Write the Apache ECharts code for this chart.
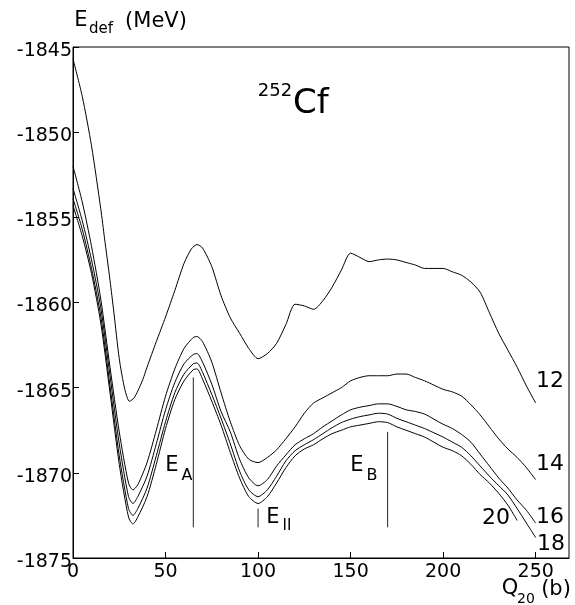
<!DOCTYPE html>
<html>
<head>
<meta charset="utf-8">
<script src="https://cdn.jsdelivr.net/npm/echarts@6/dist/echarts.min.js"></script>
<style>html,body{margin:0;padding:0;background:#fff}#c{width:575px;height:605px}</style>
</head>
<body>
<div id="c"></div>
<script>
// ---- data (Q20 in b, E_def in MeV) ----
var xTicks = [0, 50, 100, 150, 200, 250];
var yTicks = [-1875, -1870, -1865, -1860, -1855, -1850, -1845];

var curve12 = [[0,-1845.7],[5,-1847.9],[10,-1850.8],[15,-1854.5],[17,-1856.2],[20,-1858.7],[22,-1860.5],[25,-1863.3],[28,-1865.1],[30.5,-1865.8],[33,-1865.6],[35,-1865.2],[37.8,-1864.5],[40,-1863.8],[45,-1862.3],[50,-1860.85],[55,-1859.3],[60,-1857.7],[64,-1856.85],[67,-1856.6],[70,-1856.8],[75,-1857.9],[80,-1859.6],[85,-1860.9],[90,-1861.8],[95,-1862.7],[100,-1863.3],[105,-1863.0],[110,-1862.4],[115,-1861.3],[120,-1860.1],[125,-1860.2],[130,-1860.4],[135,-1859.9],[140,-1859.1],[145,-1858.1],[150,-1857.1],[155,-1857.35],[160,-1857.6],[165,-1857.5],[170,-1857.45],[175,-1857.5],[180,-1857.65],[185,-1857.8],[190,-1858.0],[200,-1858.0],[205,-1858.2],[210,-1858.4],[215,-1858.8],[220,-1859.4],[225,-1860.6],[230,-1861.8],[235,-1862.8],[240,-1863.8],[245,-1864.9],[250,-1865.9]];

var curve14 = [[0,-1852.0],[5,-1854.1],[10,-1856.7],[15,-1859.8],[20,-1863.8],[25,-1867.6],[30,-1870.6],[32.4,-1871.0],[35,-1870.7],[40,-1869.4],[45,-1867.5],[50,-1865.5],[55,-1863.9],[60,-1862.7],[65,-1862.05],[67,-1862.0],[70,-1862.3],[75,-1863.5],[80,-1865.3],[85,-1867.0],[90,-1868.4],[95,-1869.2],[100,-1869.4],[105,-1869.1],[110,-1868.65],[115,-1868.0],[120,-1867.3],[125,-1866.5],[130,-1865.9],[135,-1865.6],[140,-1865.3],[145,-1865.0],[150,-1864.6],[155,-1864.4],[160,-1864.3],[165,-1864.3],[170,-1864.3],[175,-1864.2],[180,-1864.2],[185,-1864.4],[190,-1864.6],[195,-1864.85],[200,-1865.1],[205,-1865.25],[210,-1865.5],[215,-1866.0],[220,-1866.6],[225,-1867.3],[230,-1868.0],[235,-1868.6],[240,-1869.1],[245,-1869.7],[250,-1870.4]];

var curve16 = [[0,-1853.3],[5,-1855.2],[10,-1857.5],[15,-1860.3],[20,-1864.3],[25,-1868.3],[30,-1871.4],[32.4,-1871.8],[35,-1871.4],[40,-1870.2],[45,-1868.3],[50,-1866.3],[55,-1864.7],[60,-1863.6],[65,-1863.05],[67,-1863.0],[70,-1863.5],[75,-1864.8],[80,-1866.4],[85,-1867.6],[90,-1869.2],[95,-1870.3],[100,-1870.76],[105,-1870.4],[110,-1869.6],[115,-1868.95],[120,-1868.35],[125,-1868.0],[130,-1867.7],[135,-1867.3],[140,-1866.95],[145,-1866.6],[150,-1866.3],[155,-1866.15],[160,-1866.05],[165,-1865.95],[170,-1865.95],[175,-1866.1],[180,-1866.3],[185,-1866.4],[190,-1866.55],[195,-1866.85],[200,-1867.15],[205,-1867.4],[210,-1867.75],[215,-1868.2],[220,-1868.9],[225,-1869.6],[230,-1870.3],[235,-1870.9],[240,-1871.6],[245,-1872.2],[250,-1872.95]];

var curve18 = [[0,-1853.9],[5,-1855.7],[10,-1858.0],[15,-1860.8],[20,-1864.9],[25,-1869.0],[30,-1872.1],[32.4,-1872.5],[35,-1872.1],[40,-1870.9],[45,-1869.0],[50,-1867.0],[55,-1865.3],[60,-1864.2],[65,-1863.6],[67,-1863.55],[70,-1864.1],[75,-1865.4],[80,-1866.8],[85,-1868.3],[90,-1869.9],[95,-1871.0],[100,-1871.4],[105,-1871.0],[110,-1870.2],[115,-1869.3],[120,-1868.7],[125,-1868.35],[130,-1868.05],[135,-1867.7],[140,-1867.35],[145,-1867.05],[150,-1866.85],[155,-1866.7],[160,-1866.6],[165,-1866.5],[170,-1866.55],[175,-1866.8],[180,-1867.0],[185,-1867.2],[190,-1867.4],[195,-1867.65],[200,-1867.9],[205,-1868.2],[210,-1868.5],[215,-1869.0],[220,-1869.6],[225,-1870.2],[230,-1870.75],[235,-1871.3],[240,-1872.1],[245,-1872.95],[250,-1873.8]];

var curve20 = [[0,-1854.3],[5,-1856.1],[10,-1858.3],[15,-1861.2],[20,-1865.3],[25,-1869.5],[30,-1872.6],[32.4,-1873.0],[35,-1872.6],[40,-1871.4],[45,-1869.5],[50,-1867.4],[55,-1865.7],[60,-1864.6],[65,-1863.95],[67,-1863.9],[70,-1864.5],[75,-1865.8],[80,-1867.2],[85,-1868.8],[90,-1870.3],[95,-1871.4],[100,-1871.8],[105,-1871.4],[110,-1870.6],[115,-1869.7],[120,-1869.0],[125,-1868.6],[130,-1868.35],[135,-1868.0],[140,-1867.7],[145,-1867.5],[150,-1867.3],[155,-1867.2],[160,-1867.1],[165,-1867.0],[170,-1867.05],[175,-1867.3],[180,-1867.5],[185,-1867.7],[190,-1867.9],[195,-1868.2],[200,-1868.5],[205,-1868.7],[210,-1869.0],[215,-1869.5],[220,-1870.1],[225,-1870.6],[230,-1871.2],[235,-1871.9],[240,-1872.8]];

// barrier / isomer marker lines: [Q20, E] end points
var markerEA = [[65, -1864.4], [65, -1873.2]];
var markerEII = [[100, -1872.1], [100, -1873.2]];
var markerEB = [[170, -1867.6], [170, -1873.2]];

var curves = [curve12, curve14, curve16, curve18, curve20];
var markers = [markerEA, markerEII, markerEB];

// ---- chart ----
var FONT = 'DejaVu Sans';
var chart = echarts.init(document.getElementById('c'), null, {renderer: 'canvas'});

var series = [];
curves.forEach(function (d) {
  series.push({type: 'line', data: d, smooth: 0.25, showSymbol: false, symbol: 'none',
    lineStyle: {color: '#000', width: 1}, silent: true, z: 3});
});
markers.forEach(function (d) {
  series.push({type: 'line', data: d, showSymbol: false, symbol: 'none',
    lineStyle: {color: '#222', width: 1}, silent: true, z: 2});
});

function txt(t, x, y, size, align) {
  return {type: 'text', x: x, y: y, silent: true, z: 10,
    style: {text: t, fontFamily: FONT, fontSize: size, fill: '#000', align: align || 'center', verticalAlign: 'middle'}};
}
function plain(v) { return String(v); }

chart.setOption({
  animation: false,
  backgroundColor: '#fff',
  grid: {left: 73, right: 6, top: 47, bottom: 47, show: true, borderColor: '#000', borderWidth: 1, backgroundColor: 'transparent'},
  xAxis: {
    type: 'value', min: 0, max: 268, interval: 50,
    axisLine: {show: true, lineStyle: {color: '#000', width: 1}},
    axisTick: {show: true, inside: true, length: 6, lineStyle: {color: '#000'}, customValues: xTicks},
    axisLabel: {color: '#000', fontFamily: FONT, fontSize: 19, margin: 5, customValues: xTicks, formatter: plain},
    splitLine: {show: false}
  },
  yAxis: {
    type: 'value', min: -1875, max: -1845, interval: 5,
    axisLine: {show: true, lineStyle: {color: '#000', width: 1}},
    axisTick: {show: true, inside: true, length: 6, lineStyle: {color: '#000'}, customValues: yTicks},
    axisLabel: {color: '#000', fontFamily: FONT, fontSize: 19, margin: 1, customValues: yTicks,
      formatter: function (v) { return '{a|' + String(v) + '}'; },
      rich: {a: {fontFamily: FONT, fontSize: 19, color: '#000', padding: [8, 0, 0, 0]}}},
    splitLine: {show: false}
  },
  series: series,
  graphic: [
    txt('E', 81, 21, 21),
    txt('def', 89, 29, 15, 'left'),
    txt('(MeV)', 156, 22, 21),
    txt('252', 275, 91, 18),
    txt('Cf', 293, 104, 34, 'left'),
    txt('E', 172, 466, 21),
    txt('A', 187, 476, 16),
    txt('E', 273, 518, 21),
    txt('II', 287, 526, 15),
    txt('E', 357, 466, 21),
    txt('B', 372, 476, 16),
    txt('12', 550, 381, 22),
    txt('14', 550, 464, 22),
    txt('16', 550, 517, 22),
    txt('18', 551, 544, 22),
    txt('20', 496, 518, 22),
    txt('Q', 510, 589, 21),
    txt('20', 526, 599, 14),
    txt('(b)', 556, 590, 21)
  ]
});
</script>
</body>
</html>
